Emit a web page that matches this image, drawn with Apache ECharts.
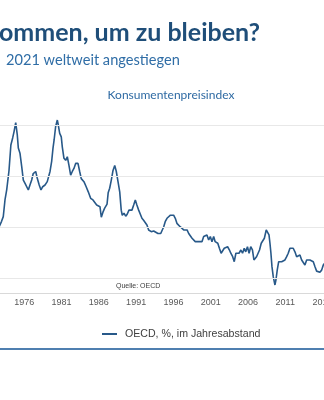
<!DOCTYPE html>
<html><head><meta charset="utf-8">
<script src="https://cdn.jsdelivr.net/npm/echarts@6/dist/echarts.min.js"></script>
<style>html,body{margin:0;padding:0;background:#fff}#c{width:324px;height:400px}</style>
</head><body><div id="c"></div>
<script>
// decimal years (month resolution)
const years = [
1972.5,1972.74,1972.95,1973.18,1973.41,1973.64,1973.95,1974.2,1974.44,1974.62,1974.85,1975.06,1975.2,1975.42,1975.65,1975.87,
1976.1,1976.32,1976.54,1976.76,1976.99,1977.2,1977.53,1977.74,1978.0,1978.24,1978.47,1978.78,1979.08,1979.45,1979.67,1979.85,
1980.0,1980.2,1980.43,1980.56,1980.75,1980.96,1981.1,1981.32,1981.55,1981.77,1981.99,1982.22,1982.44,1982.66,1982.9,1983.2,
1983.43,1983.64,1984.0,1984.3,1984.58,1984.9,1985.21,1985.44,1985.71,1985.92,1986.15,1986.33,1986.55,1986.78,1986.95,1987.1,
1987.25,1987.45,1987.67,1987.9,1988.13,1988.34,1988.57,1988.8,1989.0,1989.14,1989.37,1989.6,1989.8,1990.04,1990.2,1990.44,
1990.67,1990.89,1991.1,1991.34,1991.56,1991.78,1992.0,1992.2,1992.45,1992.68,1993.03,1993.35,1993.6,1993.93,1994.16,1994.3,
1994.46,1994.7,1994.9,1995.14,1995.37,1995.6,1995.8,1996.03,1996.25,1996.47,1996.7,1996.9,1997.15,1997.38,1997.6,1997.83,
1998.05,1998.26,1998.5,1998.7,1998.93,1999.16,1999.38,1999.6,1999.83,2000.06,2000.27,2000.5,2000.73,2000.95,2001.17,2001.4,
2001.6,2001.8,2001.95,2002.17,2002.4,2002.6,2002.82,2003.05,2003.27,2003.5,2003.7,2003.95,2004.16,2004.38,2004.6,2004.8,
2005.05,2005.27,2005.5,2005.7,2005.93,2006.15,2006.37,2006.6,2006.8,2006.95,2007.15,2007.3,2007.55,2007.78,2008.0,2008.2,
2008.45,2008.63,2008.82,2008.95,2009.08,2009.22,2009.39,2009.62,2009.75,2009.93,2010.12,2010.29,2010.52,2010.73,2010.96,2011.19,
2011.4,2011.63,2011.86,2012.07,2012.3,2012.53,2012.74,2012.97,2013.2,2013.41,2013.64,2013.87,2014.08,2014.31,2014.54,2014.76,
2014.99,2015.21,2015.43,2015.65,2015.88,2016.1,2016.4,2016.7
];
// OECD consumer price inflation, % year on year
const cpi = [
4.9,5.24,5.6,6.06,7.7,8.7,10.6,13.1,13.8,14.4,15.3,14.1,12.8,12.3,11.0,9.66,
9.34,9.17,8.68,9.17,9.66,10.3,10.5,9.83,9.17,8.68,9.0,9.17,9.5,10.5,11.5,12.8,
13.6,14.9,15.56,15.07,14.25,13.9,12.9,11.8,11.6,11.95,11.1,10.15,10.5,10.8,11.3,11.3,
10.5,9.8,9.5,9.0,8.5,7.86,7.7,7.53,7.2,7.37,7.04,6.0,6.5,6.9,6.9,7.3,
8.4,8.85,9.66,10.6,11.1,10.5,9.5,8.5,6.7,6.2,6.4,6.1,6.3,6.7,6.55,6.7,
7.2,7.7,7.2,6.7,6.7,5.9,5.7,5.56,5.24,4.75,4.58,4.65,4.5,4.4,4.26,4.4,
4.58,5.07,5.56,5.9,6.06,6.2,6.1,6.2,5.9,5.4,5.24,5.07,5.24,4.75,4.58,4.75,
4.4,4.26,3.93,3.76,3.6,3.44,3.6,3.76,3.6,4.1,3.93,4.26,3.76,4.1,3.6,4.1,
3.6,3.6,3.44,2.95,2.46,2.6,2.95,2.8,3.1,2.8,2.46,2.12,1.63,2.46,2.6,2.46,
2.78,2.46,2.95,2.6,3.1,2.46,3.1,2.8,1.8,1.63,2.12,1.96,2.78,3.44,3.6,3.93,
4.75,4.9,4.26,3.44,2.46,1.14,0.16,-0.66,-0.17,0.82,1.63,1.8,1.63,1.47,1.8,2.12,
2.46,2.95,3.1,2.95,2.6,2.12,1.96,2.29,1.8,1.63,1.3,1.8,1.63,1.8,1.96,1.63,
1.14,0.7,0.6,0.6,0.8,1.3,1.6,1.2
];
const gridValues = [0, 5, 10, 15];
const seriesName = 'OECD, %, im Jahresabstand';

const chart = echarts.init(document.getElementById('c'), null, {renderer: 'canvas'});
chart.setOption({
  animation: false,
  textStyle: {fontFamily: 'Liberation Sans, Arial, sans-serif'},
  grid: {left: -20.44, top: 105.4, width: 387.7, height: 187.6, containLabel: false, outerBoundsMode: 'none'},
  xAxis: {
    type: 'value', min: 1970, max: 2022, interval: 1,
    axisLine: {show: true, onZero: false, lineStyle: {color: '#d9d9d9', width: 1}},
    axisTick: {show: false},
    splitLine: {show: false},
    axisLabel: {
      margin: 5, fontSize: 9, color: '#595959', showMinLabel: true, showMaxLabel: true, hideOverlap: false,
      formatter: v => ((Math.round(v) - 1971) % 5 === 0 ? String(Math.round(v)) : '')
    }
  },
  yAxis: {type: 'value', min: -1.45, max: 17, show: false, splitLine: {show: false}},
  legend: {
    data: [seriesName], left: 102, top: 328.5, padding: 0,
    icon: 'rect', itemWidth: 15, itemHeight: 2, itemGap: 10,
    textStyle: {fontSize: 10.6, color: '#404040', padding: [0, 0, 0, 3]}
  },
  series: [
    {
      name: 'grid', type: 'line', data: [], z: 1, silent: true,
      markLine: {
        silent: true, symbol: 'none', label: {show: false}, animation: false,
        lineStyle: {color: '#e8e8e8', type: 'solid', width: 1},
        data: gridValues.map(v => ({yAxis: v}))
      }
    },
    {
      name: seriesName, type: 'line', z: 3,
      data: years.map((y, i) => [y, cpi[i]]),
      showSymbol: false, symbol: 'none',
      lineStyle: {color: '#285989', width: 1.6},
      itemStyle: {color: '#285989'}
    }
  ],
  graphic: [
    {type: 'text', x: -1, y: 33, style: {text: 'ommen, um zu bleiben?', font: 'bold 25px Lato', fill: '#1f4e79', verticalAlign: 'middle'}},
    {type: 'text', x: 6, y: 60, style: {text: '2021 weltweit angestiegen', font: '14.6px Lato', fill: '#2f6da6', verticalAlign: 'middle'}},
    {type: 'text', x: 171, y: 95, style: {text: 'Konsumentenpreisindex', font: '12px Lato', fill: '#2e6aa3', align: 'center', verticalAlign: 'middle'}},
    {type: 'text', x: 116, y: 286, style: {text: 'Quelle: OECD', font: '7px Liberation Sans', fill: '#404040', align: 'left', verticalAlign: 'middle'}},
    {type: 'line', shape: {x1: 0, y1: 349, x2: 324, y2: 349}, style: {stroke: '#4f7fb0', lineWidth: 2}}
  ]
});
</script></body></html>
